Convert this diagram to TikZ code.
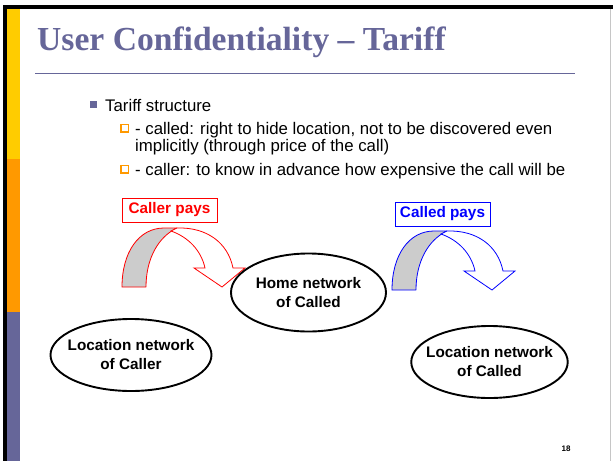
\documentclass[tikz,border=0pt]{standalone}
\usepackage{fontspec}
\setmainfont{Liberation Sans}
\newfontfamily\titlefont{Liberation Serif}
\usetikzlibrary{shapes.geometric}
\definecolor{slidepurple}{HTML}{666699}
\definecolor{slideorange}{HTML}{FF9900}
\definecolor{slideyellow}{HTML}{FFCC00}
\definecolor{bandgrey}{HTML}{CCCCCC}

\tikzset{
  bodytext/.style={anchor=base west, inner sep=0pt, font=\fontsize{16.8}{18}\selectfont},
  subbullet/.style={draw=slideorange, line width=1.6pt},
  paybox/.style={draw=#1, text=#1, fill=white, line width=0.9pt, minimum width=95pt,
    minimum height=24pt, inner sep=0pt, font=\bfseries\fontsize{15.3}{17}\selectfont},
  netellipse/.style={ellipse, draw=black, line width=1.9pt, fill=white, align=center,
    inner xsep=-8pt, inner ysep=0pt, font=\bfseries\fontsize{15.3}{19}\selectfont},
  pics/bentarrow/.style={code={
    % underside of the band, seen on the left
    \path[draw=#1, fill=bandgrey, line width=0.8pt, line join=round]
      (0,0) .. controls (0,-35) and (17,-59) .. (42,-59) -- (55,-59)
      .. controls (36,-50) and (24,-28) .. (24,0) -- cycle;
    % front of the band with its head
    \path[draw=#1, fill=white, line width=0.8pt, line join=miter]
      (49,-56) .. controls (66,-50) and (79,-37) .. (83,-19)
      -- (72,-19) -- (100,0) -- (123,-19) -- (111,-19)
      .. controls (106,-44) and (85,-60) .. (55,-59) -- cycle;
  }}
}

\begin{document}
\begin{tikzpicture}[x=1pt,y=-1pt]
\useasboundingbox (0,0) rectangle (613,461);
\fill[white] (0,0) rectangle (613,461);

% slide frame and coloured side bar
\fill[black] (3,5) rectangle (613,9);
\fill[black] (3,5) rectangle (7,461);
\draw[gray!45, line width=0.8pt] (610,9) -- (610,461);
\fill[slideyellow] (7,9) rectangle (20,159);
\fill[slideorange] (7,159) rectangle (20,312);
\fill[slidepurple] (7,312) rectangle (20,461);

% title
\node[anchor=base west, inner sep=0pt, text=slidepurple,
      font=\titlefont\bfseries\fontsize{33.6}{36}\selectfont] (title) at (37,50)
      {User Confidentiality – Tariff};
\draw[slidepurple, line width=1pt] (35,73) -- (575,73);

% bullet list
\fill[slidepurple] (90,101) rectangle (96.5,107.5);
\node[bodytext] (tariff) at (105,111) {Tariff structure};
\draw[subbullet] (121,124.5) rectangle (128.5,132);
\node[bodytext] (calledA) at (135,134) {- called: right to hide location, not to be discovered even};
\node[bodytext] (calledB) at (135,151.5) {implicitly (through price of the call)};
\draw[subbullet] (121,165.5) rectangle (128.5,173);
\node[bodytext] (caller) at (135,175) {- caller: to know in advance how expensive the call will be};

% curved arrows
\pic (redarrow) at (122,287) {bentarrow=red};
\pic (bluearrow) at (392,290) {bentarrow=blue};

% payment labels
\node[paybox=red] (callerpays) at (169.5,210) {Caller pays};
\node[paybox=blue] (calledpays) at (442.5,214) {Called pays};

% networks
\node[netellipse, minimum width=155pt, minimum height=78pt] (home) at (308.5,292.5)
  {Home network\\of Called};
\node[netellipse, minimum width=161pt, minimum height=72pt] (loccaller) at (131,355)
  {Location network\\of Caller};
\node[netellipse, minimum width=154pt, minimum height=72pt] (loccalled) at (489.5,362)
  {Location network\\of Called};

% slide number
\node[inner sep=0pt, font=\bfseries\fontsize{8}{9}\selectfont] (pagenum) at (566,449) {18};
\end{tikzpicture}
\end{document}
